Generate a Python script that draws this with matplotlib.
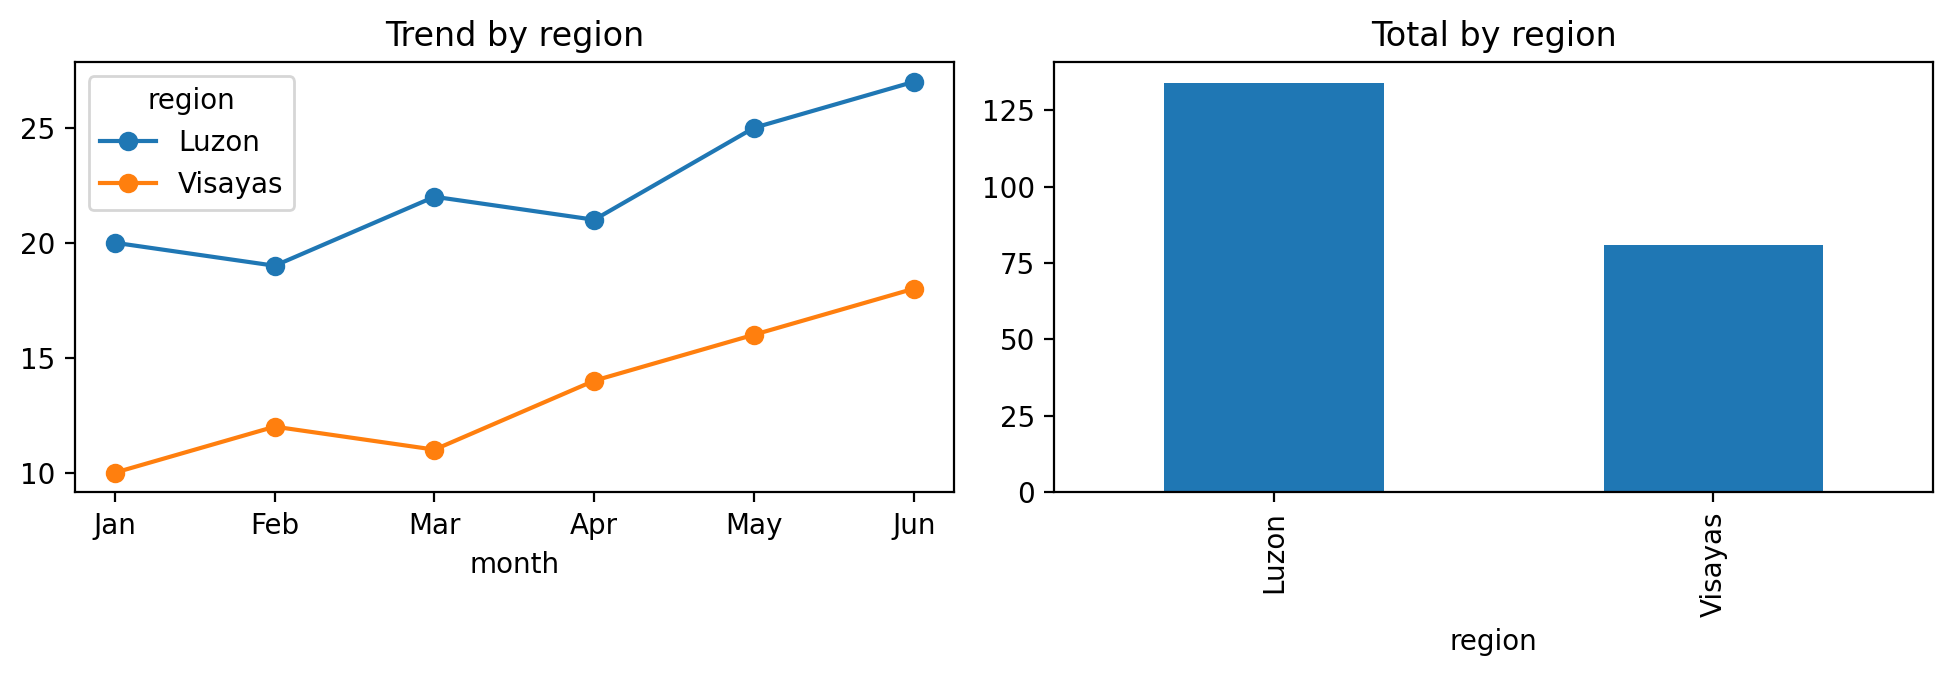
import pandas as pd
import matplotlib
matplotlib.use("Agg")
import matplotlib.pyplot as plt

months = ["Jan", "Feb", "Mar", "Apr", "May", "Jun"]
luzon = [20, 19, 22, 21, 25, 27]
visayas = [10, 12, 11, 14, 16, 18]

df = pd.DataFrame({"Luzon": luzon, "Visayas": visayas}, index=months)
df.index.name = "month"
df.columns.name = "region"
totals = df.sum()

fig, axes = plt.subplots(1, 2, figsize=(9.765, 3.385), dpi=200)

df.plot(ax=axes[0], marker="o")
axes[0].set_xticks(range(len(months)))
axes[0].set_xticklabels(months)
axes[0].set_title("Trend by region")

totals.plot(kind="bar", ax=axes[1])
axes[1].set_title("Total by region")

plt.subplots_adjust(left=0.0384, right=0.9898, top=0.908, bottom=0.273, wspace=0.1145)
plt.savefig("out.png", dpi=200)
